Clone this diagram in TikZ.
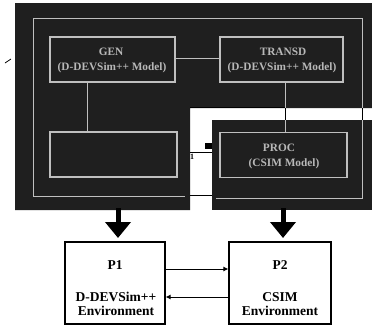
\documentclass[tikz,border=0pt]{standalone}
\usepackage{fontspec}
\setmainfont{Liberation Serif}
\usetikzlibrary{arrows.meta}
\begin{document}
\begin{tikzpicture}[x=1pt,y=-1pt,
  panel/.style={fill=black!88,draw=none},
  scanline/.style={draw=white!75!black,line width=0.9pt},
  notchline/.style={draw=black,line width=0.9pt},
  modelbox/.style={draw=white!75!black,line width=1.1pt,inner sep=0pt},
  modeltext/.style={text=white!72!black,font=\bfseries\fontsize{11.3}{12}\selectfont,inner sep=0pt},
  envbox/.style={draw=black,line width=1.1pt,minimum height=82pt,inner sep=0pt},
  envtext/.style={font=\bfseries\fontsize{13.5}{14}\selectfont,inner sep=0pt},
  bigarrow/.style={line width=5pt,-{Triangle[width=25pt,length=16pt]}},
  flow/.style={line width=1pt,-{Latex[length=5pt,width=5pt]}}
]
\useasboundingbox (0,0) rectangle (372,327);
\fill[white] (0,0) rectangle (372,327);
% dark scanned panels
\fill[panel] (15,3) -- (372,3) -- (372,108) -- (190,108) -- (190,210) -- (15,210) -- cycle;
\fill[panel] (212,120) rectangle (372,210);
% frame lines inside the scan
\draw[scanline] (33,196) -- (33,18) -- (362,18) -- (362,108);
\draw[scanline] (362,120) -- (362,198) -- (216,198);
\draw[scanline] (33,196) -- (185,196);
% model boxes
\node[modelbox,minimum width=125pt,minimum height=45pt] (gen) at (112.5,59.5) {};
\node[modelbox,minimum width=123pt,minimum height=45pt] (transd) at (281.5,59.5) {};
\node[modelbox,minimum width=127pt,minimum height=45pt] (buf) at (113.5,154.5) {};
\node[modelbox,minimum width=127pt,minimum height=45pt] (proc) at (283.5,155) {};
\node[modeltext] (gent) at (111,52) {GEN};
\node[modeltext] (genm) at (112,68) {(D-DEVSim++ Model)};
\node[modeltext] (trt) at (283,52) {TRANSD};
\node[modeltext] (trm) at (282,68) {(D-DEVSim++ Model)};
\node[modeltext] (prt) at (279,148) {PROC};
\node[modeltext] (prm) at (284,164) {(CSIM Model)};
% couplings
\draw[scanline] (gen.east |- 0,58) -- (transd.west |- 0,58);
\draw[scanline] (gen.south -| 87,0) -- (buf.north -| 87,0);
\draw[scanline] (transd.south -| 285,0) -- (285,108);
\draw[notchline] (285,108) -- (285,120);
\draw[scanline] (285,120) -- (proc.north -| 285,0);
\draw[notchline] (362,108) -- (362,120);
\draw[notchline] (190,107.5) -- (285,107.5);
\coordinate (nl) at (190,152);
\coordinate (nr) at (212,152);
\draw[notchline] (nl) -- (nr);
\fill[black] (205,143) rectangle (212,149);
\node[font=\bfseries\fontsize{8}{8}\selectfont,inner sep=0pt] (one) at (192,157) {1};
\coordinate (ml) at (190,195);
\coordinate (mr) at (212,195);
\draw[notchline] (ml) -- (mr);
% stray mark
\coordinate (s1) at (5,63);
\coordinate (s2) at (11,59);
\draw[line width=0.8pt] (s1) -- (s2);
% environments
\node[envbox,minimum width=100pt] (p1) at (115,283) {};
\node[envbox,minimum width=102pt] (p2) at (280,283) {};
\node[envtext] (p1t) at (115,265) {P1};
\node[envtext] (p1a) at (116,297) {D-DEVSim++};
\node[envtext] (p1b) at (116,311) {Environment};
\node[envtext] (p2t) at (280,265) {P2};
\node[envtext] (p2a) at (280,297) {CSIM};
\node[envtext] (p2b) at (280,311) {Environment};
\coordinate (a1) at (118,208);
\coordinate (a2) at (283,208);
\draw[bigarrow] (a1) -- (118,238);
\draw[bigarrow] (a2) -- (283,238);
\draw[flow] (p1.east |- 0,269) -- (p2.west |- 0,269);
\draw[flow] (p2.west |- 0,297) -- (p1.east |- 0,297);
\end{tikzpicture}
\end{document}
